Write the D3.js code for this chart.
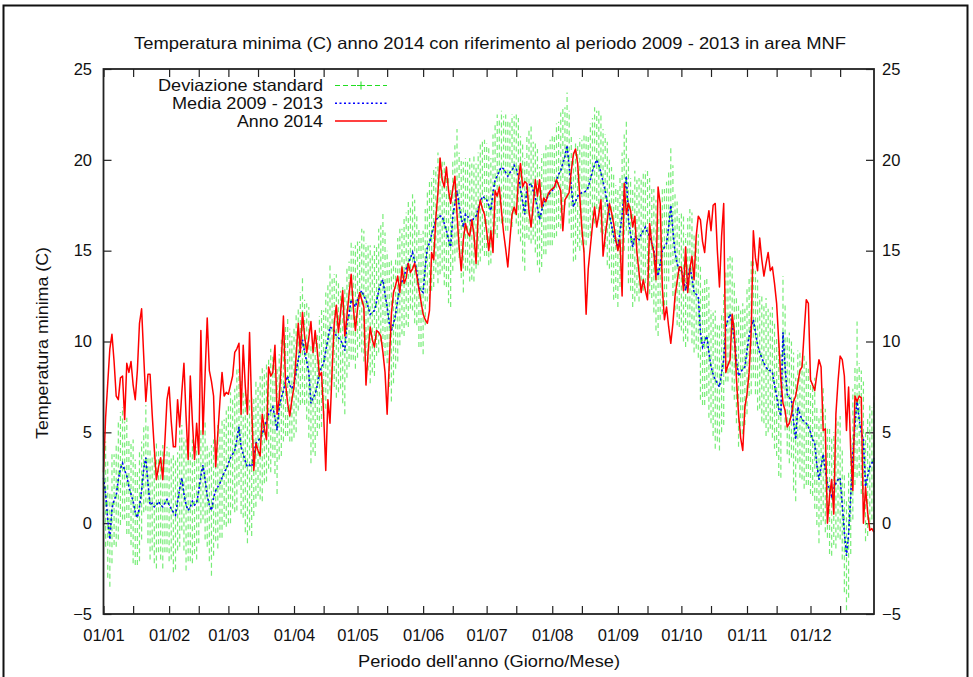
<!DOCTYPE html>
<html>
<head>
<meta charset="utf-8">
<script src="https://cdn.jsdelivr.net/npm/d3@7"></script>
<style>
  body { margin: 0; background: #fff; }
  svg { display: block; font-family: "Liberation Sans", Arial, sans-serif; }
</style>
</head>
<body>
<div id="chart"></div>
<script>
// minime giornaliere 2014 (una riga per mese)
const anno2014 = [
  2.8, 5.8, 7.7, 9.6, 10.4, 8.9, 7.0, 6.8, 8.0, 8.1, 5.7, 8.8, 8.3, 8.9, 7.6, 6.8, 8.4, 11.0, 11.8, 9.2, 6.7, 8.2, 8.2, 6.0, 4.1, 2.4, 3.1, 3.6, 2.4, 4.5, 6.8,
  7.5, 5.6, 4.2, 4.2, 6.8, 5.3, 7.2, 8.8, 5.9, 3.5, 8.1, 5.6, 3.5, 5.5, 3.8, 10.6, 4.9, 8.2, 11.3, 8.4, 7.8, 7.0, 3.1, 4.9, 6.7, 8.3, 7.0, 7.2,
  7.1, 7.6, 8.1, 9.4, 9.6, 9.9, 6.0, 9.8, 7.5, 6.0, 10.5, 6.4, 2.9, 4.4, 4.0, 3.7, 6.0, 5.2, 4.6, 8.6, 8.1, 8.3, 9.8, 6.0, 6.8, 8.9, 11.4, 7.7, 6.6, 5.9, 6.8,
  7.5, 9.2, 11.0, 9.4, 11.6, 10.3, 9.4, 10.2, 11.1, 9.4, 10.6, 9.5, 8.1, 8.3, 6.0, 2.9, 6.8, 5.5, 8.4, 11.0, 12.0, 10.5, 11.6, 12.8, 10.3, 11.4, 12.6, 13.7, 11.9, 10.6,
  11.8, 12.7, 12.3, 11.9, 7.6, 9.4, 10.8, 10.1, 9.7, 10.6, 10.5, 10.3, 9.4, 8.3, 6.0, 8.8, 11.5, 12.7, 13.1, 13.6, 12.7, 14.1, 13.2, 13.5, 14.3, 13.8, 14.0, 14.3, 13.6, 12.9, 12.2,
  11.5, 11.2, 11.0, 11.7, 14.9, 14.5, 16.8, 18.2, 20.1, 18.9, 18.5, 19.6, 18.3, 17.6, 18.4, 19.1, 17.0, 15.2, 13.9, 15.6, 16.5, 16.0, 15.8, 16.7, 15.9, 14.3, 17.0, 17.8, 17.3, 17.0,
  16.1, 15.0, 16.1, 14.9, 18.3, 18.0, 18.5, 17.2, 16.0, 15.1, 14.1, 15.6, 17.0, 17.4, 17.0, 18.9, 19.8, 18.5, 18.8, 18.7, 17.2, 16.3, 17.5, 18.9, 18.0, 18.9, 17.4, 17.9, 17.7, 18.1, 18.3,
  18.4, 18.5, 18.9, 18.6, 18.3, 16.1, 17.8, 18.0, 18.2, 19.4, 20.3, 20.6, 19.8, 18.0, 16.2, 14.9, 11.5, 14.0, 15.2, 16.4, 17.4, 16.3, 17.0, 17.8, 14.7, 15.8, 16.7, 17.6, 17.1, 16.5, 15.6,
  15.0, 15.6, 12.5, 18.7, 17.0, 17.6, 17.2, 16.3, 16.9, 14.9, 13.8, 12.7, 13.4, 12.8, 12.3, 16.5, 15.4, 14.9, 13.4, 18.5, 17.6, 13.0, 11.2, 11.9, 10.8, 9.9, 11.0, 12.5, 13.3, 14.1,
  14.1, 12.8, 15.2, 12.7, 14.0, 14.7, 13.4, 15.8, 16.9, 16.7, 15.5, 14.9, 16.4, 17.2, 16.1, 17.5, 17.6, 15.0, 13.0, 15.8, 17.6, 8.3, 8.7, 9.0, 11.5, 10.6, 8.0, 6.0, 4.7, 4.0, 6.4,
  7.1, 8.3, 10.6, 16.1, 14.6, 13.9, 15.7, 14.5, 13.6, 14.3, 14.9, 13.9, 14.1, 13.2, 12.1, 10.0, 7.9, 6.6, 6.2, 5.3, 5.5, 6.0, 6.7, 7.0, 7.7, 8.4, 8.6, 10.5, 12.3, 12.1,
  7.9, 7.6, 7.3, 8.2, 9.0, 8.6, 5.1, 5.2, 0.0, 1.5, 2.4, 0.5, 6.0, 7.8, 9.2, 9.0, 8.1, 5.1, 7.5, 4.0, 1.8, 7.0, 6.7, 7.0, 6.9, 0.0, 2.0, 0.6, -0.4, -0.3, -0.5
]

// media 2009 - 2013
const media = [
  2.5, 1.6, 0.2, -0.9, 0.8, 1.3, 1.5, 2.4, 3.0, 3.3, 2.9, 2.6, 2.0, 1.6, 1.2, 0.6, 0.3, 0.9, 1.8, 3.0, 3.6, 2.2, 1.0, 1.1, 0.9, 1.0, 1.2, 1.0, 0.9, 1.1, 1.3,
  1.0, 0.8, 0.6, 0.45, 1.2, 1.9, 2.5, 1.6, 1.0, 0.7, 0.9, 1.2, 1.0, 1.1, 1.8, 2.6, 3.2, 2.4, 1.5, 1.0, 0.7, 1.4, 1.8, 2.0, 2.2, 2.5, 2.8, 3.0,
  3.3, 3.6, 3.8, 4.0, 4.6, 5.3, 4.2, 3.8, 3.4, 3.1, 3.2, 3.1, 3.7, 4.4, 4.5, 4.7, 4.9, 5.3, 5.6, 6.0, 6.2, 6.4, 5.8, 5.1, 6.4, 6.9, 7.3, 7.8, 8.1, 7.6, 7.4,
  7.7, 8.3, 9.0, 9.6, 10.1, 9.4, 8.9, 8.3, 6.6, 6.9, 7.1, 7.6, 8.3, 8.6, 8.8, 9.5, 10.1, 10.8, 10.7, 10.6, 10.3, 10.2, 10.1, 9.8, 9.5, 11.0, 11.5, 12.3, 12.1, 11.9,
  12.3, 12.6, 12.8, 12.5, 12.3, 11.9, 11.5, 11.6, 11.7, 12.2, 12.8, 13.2, 13.4, 12.6, 11.9, 11.0, 10.6, 11.0, 11.5, 12.3, 13.0, 13.3, 13.6, 14.0, 14.3, 14.6, 14.9, 14.4, 13.9, 13.0, 12.8,
  12.7, 14.1, 15.2, 15.4, 15.9, 16.3, 16.7, 16.8, 16.9, 16.9, 16.5, 16.1, 15.6, 15.2, 16.9, 17.6, 18.3, 17.5, 16.8, 16.3, 17.0, 16.9, 16.7, 16.6, 16.8, 16.9, 17.3, 17.7, 18.0, 17.9,
  17.8, 17.5, 17.2, 18.2, 18.9, 19.1, 19.4, 19.6, 19.5, 19.3, 19.1, 19.3, 19.4, 19.7, 19.5, 19.1, 18.4, 17.7, 17.0, 18.5, 18.6, 18.7, 18.3, 17.9, 17.4, 16.7, 17.2, 17.6, 17.8, 18.0, 18.2,
  18.3, 18.5, 18.9, 19.2, 19.4, 19.8, 20.2, 20.8, 19.6, 18.5, 17.4, 17.7, 18.0, 18.1, 18.2, 18.2, 18.3, 18.5, 18.9, 19.4, 19.7, 20.0, 19.7, 19.3, 18.8, 18.3, 17.6, 17.0, 16.4, 15.8, 15.5,
  15.2, 16.0, 17.0, 18.2, 19.1, 16.7, 15.9, 15.2, 15.8, 15.7, 15.6, 15.9, 16.1, 16.3, 16.0, 15.8, 15.4, 15.0, 14.2, 13.6, 14.3, 15.0, 15.2, 15.4, 16.3, 17.5, 16.1, 14.9, 14.3, 13.9,
  13.9, 13.5, 12.8, 13.4, 14.1, 13.5, 12.7, 12.6, 12.5, 10.5, 9.7, 10.0, 10.3, 9.4, 8.6, 8.2, 7.9, 7.7, 7.5, 8.3, 9.0, 10.8, 11.2, 11.5, 11.0, 10.1, 9.0, 8.1, 8.3, 8.5, 8.6,
  9.5, 10.3, 10.8, 11.2, 10.5, 9.8, 9.4, 9.1, 8.8, 8.6, 8.4, 8.4, 8.3, 7.6, 7.0, 6.3, 5.9, 10.5, 8.6, 7.1, 6.9, 6.8, 5.6, 4.6, 6.4, 6.0, 5.7, 5.6, 5.5, 5.3,
  5.0, 4.6, 4.4, 3.2, 2.4, 3.1, 3.8, 2.9, 2.2, 1.8, 1.5, 1.9, 2.2, 2.4, 2.5, 1.0, -0.5, -1.8, -0.6, 1.5, 3.8, 5.4, 6.8, 5.7, 5.0, 4.6, 2.0, 2.6, 3.1, 3.3, 3.6
]

// deviazione standard 2009 - 2013
const devStd = [
  2.6, 2.9, 3.2, 2.6, 3.0, 2.5, 2.8, 3.3, 3.1, 3.1, 2.7, 3.2, 2.6, 2.8, 3.4, 2.9, 2.6, 3.0, 2.7, 2.4, 2.9, 3.3, 3.0, 2.6, 3.1, 3.5, 2.8, 3.0, 3.4, 2.7, 2.9,
  3.1, 2.8, 3.3, 3.0, 2.7, 3.2, 2.9, 3.1, 3.6, 2.8, 3.0, 3.4, 2.7, 3.1, 2.9, 2.6, 3.0, 3.3, 2.8, 3.1, 3.6, 3.2, 2.8, 3.4, 3.0, 3.3, 2.9, 3.2,
  3.3, 3.6, 3.0, 3.4, 3.9, 3.2, 3.7, 3.5, 3.9, 4.2, 3.6, 3.8, 3.3, 3.5, 3.0, 3.4, 3.7, 3.1, 3.3, 3.0, 3.4, 2.8, 3.1, 3.5, 2.9, 3.2, 2.8, 3.0, 3.3, 3.1, 2.9,
  3.0, 3.3, 2.8, 3.1, 3.5, 2.9, 3.2, 3.6, 3.3, 3.0, 3.4, 2.8, 3.1, 3.3, 2.9, 3.2, 3.0, 3.5, 2.8, 3.1, 3.4, 3.0, 2.7, 3.2, 3.5, 3.0, 2.9, 3.3, 3.1, 3.4,
  3.2, 2.9, 3.4, 3.6, 3.1, 3.5, 3.8, 3.3, 3.6, 3.0, 3.4, 3.2, 3.7, 3.4, 3.1, 3.5, 3.9, 3.3, 3.0, 3.4, 3.2, 2.9, 3.3, 3.1, 3.5, 2.8, 3.2, 3.4, 3.0, 3.3, 3.1,
  3.4, 3.2, 3.0, 3.5, 3.1, 3.3, 2.9, 3.6, 3.2, 3.0, 3.4, 3.1, 3.5, 3.3, 3.0, 3.2, 3.4, 2.9, 3.3, 3.6, 3.1, 3.0, 3.4, 3.2, 3.5, 2.9, 3.1, 3.3, 3.0, 3.2,
  3.1, 3.3, 2.9, 3.2, 3.0, 3.4, 2.8, 3.1, 2.9, 3.2, 3.0, 2.8, 3.1, 2.7, 3.0, 3.2, 2.9, 3.3, 3.1, 2.8, 3.0, 3.3, 2.7, 3.0, 3.2, 2.9, 3.1, 2.8, 3.0, 2.7, 2.9,
  3.0, 2.8, 3.1, 2.9, 3.2, 3.0, 2.7, 2.9, 3.1, 2.8, 3.0, 3.2, 2.8, 3.1, 2.9, 3.3, 3.0, 2.8, 3.1, 2.9, 3.2, 2.7, 3.0, 3.3, 2.9, 3.1, 3.4, 3.0, 3.2, 3.5, 3.1,
  3.3, 3.0, 3.4, 3.2, 3.0, 3.5, 3.1, 3.3, 3.6, 3.2, 3.4, 3.0, 3.3, 3.1, 3.5, 3.2, 3.0, 3.4, 3.6, 3.3, 3.1, 3.5, 3.2, 3.4, 3.0, 3.3, 3.6, 3.2, 3.4, 3.1,
  3.3, 3.5, 3.1, 3.4, 3.2, 3.6, 3.3, 3.0, 3.4, 3.7, 3.2, 3.5, 3.3, 3.6, 3.1, 3.4, 3.8, 3.2, 3.5, 3.3, 3.6, 3.0, 3.4, 3.2, 3.7, 3.3, 3.5, 3.9, 3.4, 3.6, 3.2,
  3.5, 3.3, 3.7, 3.2, 3.4, 3.6, 3.1, 3.5, 3.3, 3.8, 3.4, 3.2, 3.6, 3.5, 3.3, 3.7, 3.4, 3.1, 3.5, 3.3, 3.6, 3.2, 3.8, 3.4, 3.1, 3.5, 3.3, 3.7, 3.4, 3.2,
  3.4, 3.1, 3.6, 3.3, 3.5, 3.2, 3.7, 3.4, 3.0, 3.5, 3.3, 3.1, 3.6, 3.2, 3.4, 3.0, 3.3, 3.0, 3.5, 3.2, 3.6, 3.3, 4.3, 3.1, 3.4, 3.2, 3.0, 3.3, 3.5, 3.1, 3.4
]

const serie = ['Deviazione standard', 'Media 2009 - 2013', 'Anno 2014']
const yTicks = [-5, 0, 5, 10, 15, 20, 25]

const width = 973,
    height = 677

const margin = ({
    top: 69,
    right: 99,
    bottom: 63,
    left: 103.5
})

const inizio = new Date(Date.UTC(2014, 0, 1))
const fine = new Date(Date.UTC(2015, 0, 1))
const giorni = d3.utcDays(inizio, fine)
const mesi = d3.utcMonths(inizio, fine)
const metaMese = mesi.map(m => d3.utcDay.offset(m, 14))

const data = giorni.map((d, i) => ({ d: d, t: anno2014[i], m: media[i], s: devStd[i] }))

const x = d3.scaleUtc()
    .domain([inizio, giorni[giorni.length - 1]])
    .range([margin.left, width - margin.right])

const y = d3.scaleLinear()
    .domain([-5, 25])
    .range([height - margin.bottom, margin.top])

const svg = d3.select('#chart').append('svg')
    .attr('width', width)
    .attr('height', height)
    .attr('font-size', 16.5)
    .attr('fill', '#111')

// cornice esterna
svg.append('rect')
    .attr('x', 3.5).attr('y', 5.5)
    .attr('width', 964).attr('height', 700)
    .attr('fill', 'none')
    .attr('stroke', '#111')
    .attr('stroke-width', 2)

svg.append('text')
    .attr('x', 490).attr('y', 49)
    .attr('text-anchor', 'middle')
    .attr('textLength', 712)
    .attr('lengthAdjust', 'spacingAndGlyphs')
    .text('Temperatura minima (C) anno 2014 con riferimento al periodo 2009 - 2013 in area MNF')

// assi
const styleAxis = g => {
    g.select('.domain').remove()
    g.selectAll('.tick line').attr('stroke', '#222').attr('stroke-width', 1.2)
    g.selectAll('.tick text').attr('fill', '#111').attr('font-size', 16.5)
        .attr('font-family', '"Liberation Sans", Arial, sans-serif')
}

svg.append('g')
    .attr('transform', `translate(0,${height - margin.bottom})`)
    .call(d3.axisBottom(x).tickValues(mesi).tickFormat(d3.utcFormat('%d/%m')).tickSizeInner(-8).tickPadding(15))
    .call(styleAxis)
svg.append('g')
    .attr('transform', `translate(0,${height - margin.bottom})`)
    .call(d3.axisBottom(x).tickValues(metaMese).tickFormat('').tickSizeInner(-8))
    .call(styleAxis)
svg.append('g')
    .attr('transform', `translate(0,${margin.top})`)
    .call(d3.axisTop(x).tickValues(mesi.concat(metaMese)).tickFormat('').tickSizeInner(-8))
    .call(styleAxis)
svg.append('g')
    .attr('transform', `translate(${margin.left},0)`)
    .call(d3.axisLeft(y).tickValues(yTicks).tickSizeInner(-8).tickPadding(11.5))
    .call(styleAxis)
svg.append('g')
    .attr('transform', `translate(${width - margin.right},0)`)
    .call(d3.axisRight(y).tickValues(yTicks).tickSizeInner(-8).tickPadding(8))
    .call(styleAxis)

svg.append('text')
    .attr('x', 489).attr('y', 667)
    .attr('text-anchor', 'middle')
    .attr('textLength', 262)
    .attr('lengthAdjust', 'spacingAndGlyphs')
    .text("Periodo dell'anno (Giorno/Mese)")

svg.append('text')
    .attr('transform', 'translate(48,343) rotate(-90)')
    .attr('text-anchor', 'middle')
    .attr('textLength', 192)
    .attr('lengthAdjust', 'spacingAndGlyphs')
    .text('Temperatura minima (C)')

// deviazione standard: barre d'errore + linea tratteggiata
const verde = '#55e855'
svg.append('g')
    .attr('stroke', verde)
    .attr('stroke-opacity', 0.8)
    .attr('stroke-width', 1.2)
    .attr('stroke-dasharray', '5,3')
    .selectAll('line')
    .data(data)
    .join('line')
    .attr('x1', d => x(d.d)).attr('x2', d => x(d.d))
    .attr('y1', d => y(d.m - d.s)).attr('y2', d => y(d.m + d.s))

const lineaMedia = d3.line().x(d => x(d.d)).y(d => y(d.m))
const linea2014 = d3.line().x(d => x(d.d)).y(d => y(d.t))

svg.append('path')
    .datum(data)
    .attr('d', lineaMedia)
    .attr('fill', 'none')
    .attr('stroke', '#22dd22')
    .attr('stroke-width', 1)
    .attr('stroke-dasharray', '5,3')

svg.append('path')
    .datum(data)
    .attr('d', lineaMedia)
    .attr('fill', 'none')
    .attr('stroke', '#0000ff')
    .attr('stroke-width', 1.6)
    .attr('stroke-dasharray', '2,2.5')

svg.append('path')
    .datum(data)
    .attr('d', linea2014)
    .attr('fill', 'none')
    .attr('stroke', '#ff0000')
    .attr('stroke-width', 1.5)
    .attr('stroke-linejoin', 'round')

// legenda
const legY = [85.5, 103.3, 121]
const legLen = [165, 151, 86]
const legend = svg.append('g')
serie.forEach((s, i) => {
    legend.append('text')
        .attr('x', 323).attr('y', legY[i])
        .attr('dy', '0.35em')
        .attr('text-anchor', 'end')
        .attr('textLength', legLen[i])
        .attr('lengthAdjust', 'spacingAndGlyphs')
        .text(s)
})
legend.append('line')
    .attr('x1', 335).attr('x2', 387).attr('y1', legY[0]).attr('y2', legY[0])
    .attr('stroke', '#22dd22').attr('stroke-dasharray', '5,3')
legend.append('path')
    .attr('d', `M357,${legY[0]}h8M361,${legY[0] - 4}v8`)
    .attr('stroke', '#22dd22')
legend.append('line')
    .attr('x1', 335).attr('x2', 387).attr('y1', legY[1]).attr('y2', legY[1])
    .attr('stroke', '#0000ff').attr('stroke-width', 1.6).attr('stroke-dasharray', '2,2.5')
legend.append('line')
    .attr('x1', 335).attr('x2', 387).attr('y1', legY[2]).attr('y2', legY[2])
    .attr('stroke', '#ff0000').attr('stroke-width', 1.5)

// cornice del grafico
svg.append('rect')
    .attr('x', margin.left).attr('y', margin.top)
    .attr('width', width - margin.right - margin.left)
    .attr('height', height - margin.bottom - margin.top)
    .attr('fill', 'none')
    .attr('stroke', '#222')
    .attr('stroke-width', 1.8)
</script>
</body>
</html>
